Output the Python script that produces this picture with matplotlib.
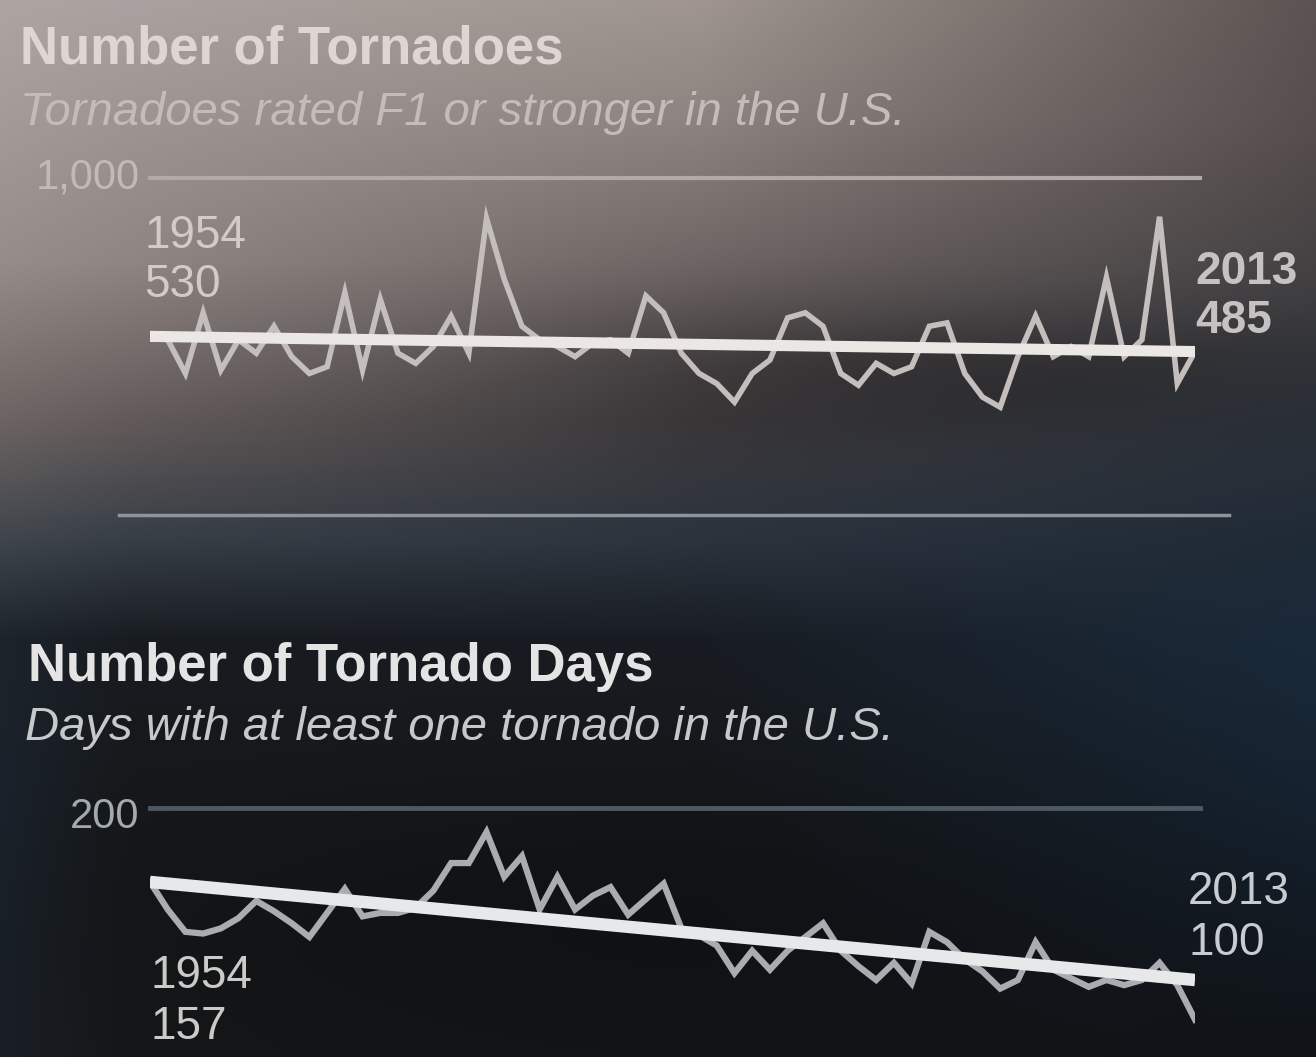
import numpy as np
import matplotlib
matplotlib.use("Agg")
import matplotlib.pyplot as plt
from matplotlib.colors import to_rgb

plt.rcParams['font.family'] = ['Liberation Sans', 'DejaVu Sans']

# ---- data ----
years = list(range(1954, 2014))

# top panel: tornadoes per year (F1 or stronger)
tornadoes = [530, 520, 420, 600, 430, 520, 480, 560, 470, 420,
             440, 660, 430, 640, 480, 450, 500, 590, 480, 880,
             700, 560, 520, 500, 470, 510, 520, 480, 650, 600,
             480, 420, 390, 335, 420, 460, 585, 600, 560, 420,
             385, 450, 420, 440, 560, 570, 420, 350, 320, 470,
             590, 470, 500, 470, 705, 470, 520, 885, 390, 485]
tornado_trend = [530, 485]

# bottom panel: days with at least one tornado
days = [157, 141, 128, 127, 130, 136, 146, 140, 133, 125,
        139, 153, 137, 139, 139, 142, 152, 168, 168, 186,
        160, 172, 141, 160, 141, 149, 154, 138, 147, 156,
        130, 126, 120, 104, 117, 106, 117, 125, 133, 117,
        108, 100, 110, 98, 128, 122, 112, 105, 95, 100,
        122, 106, 101, 96, 100, 97, 100, 110, 97, 77]
days_trend = [157, 100]
trend_years = [years[0], years[-1]]

W, H = 1316, 1057

# ---- background: photo-like gradient, light grey top to near black bottom ----
bg_ys = [0, 120, 260, 420, 540, 640, 800, 1057]
bg_xs = [0, 130, 700, 1316]
bg_rows = [
    ['#aca5a2', '#aaa2a0', '#a0968f', '#5c5251'],
    ['#a39b98', '#9e9592', '#8d8380', '#574d4d'],
    ['#968d8a', '#8f8683', '#6f6564', '#454243'],
    ['#6c6462', '#625a59', '#3d3a3c', '#2c323a'],
    ['#3f454c', '#373e46', '#2b333d', '#1f2a36'],
    ['#1c232b', '#181c21', '#181c22', '#1a2a3a'],
    ['#1a222b', '#161819', '#151719', '#15222f'],
    ['#1a1f26', '#151617', '#141517', '#101317'],
]
anchor = np.array([[to_rgb(c) for c in row] for row in bg_rows])  # rows x cols x 3
yy = np.arange(H)
xx = np.arange(W)
colgrid = np.stack([np.stack([np.interp(yy, bg_ys, anchor[:, j, c]) for c in range(3)], -1)
                    for j in range(len(bg_xs))], 1)
t = np.interp(xx, bg_xs, np.arange(len(bg_xs)))
i0 = np.clip(np.floor(t).astype(int), 0, len(bg_xs) - 2)
f = t - i0
img = colgrid[:, i0, :] * (1 - f)[None, :, None] + colgrid[:, i0 + 1, :] * f[None, :, None]
X, Y = np.meshgrid(xx, yy)
img *= 1 - 0.25 * np.exp(-(((X - 950) / 380) ** 2 + ((Y - 370) / 60) ** 2))[..., None]
img *= 1 - 0.2 * np.exp(-(((X - 650) / 500) ** 2 + ((Y - 920) / 120) ** 2))[..., None]

fig = plt.figure(figsize=(W / 100, H / 100), dpi=100)
bg = fig.add_axes([0, 0, 1, 1])
bg.imshow(np.clip(img, 0, 1), extent=[0, W, H, 0], aspect='auto', interpolation='bilinear')
bg.set_xlim(0, W)
bg.set_ylim(H, 0)
bg.set_axis_off()

# titles
bg.text(20, 50, 'Number of Tornadoes', fontsize=38, fontweight='bold',
        color='#ddd6d3', va='center', ha='left')
bg.text(20, 113, 'Tornadoes rated F1 or stronger in the U.S.', fontsize=34,
        style='italic', color='#c4bcb9', va='center', ha='left')
bg.text(28, 667, 'Number of Tornado Days', fontsize=38, fontweight='bold',
        color='#e4e4e4', va='center', ha='left')
bg.text(25, 728, 'Days with at least one tornado in the U.S.', fontsize=34,
        style='italic', color='#c6c8ca', va='center', ha='left')

# ---- top chart ----
x_left, x_w = 150 / W, 1045 / W
ax1 = fig.add_axes([x_left, 1 - 515 / H, x_w, 337 / H])
ax1.set_xlim(years[0], years[-1])
ax1.set_ylim(0, 1000)
ax1.set_axis_off()
ax1.axhline(1000, xmin=0, xmax=1.005, color='#b2aaa7', lw=3, clip_on=False)
ax1.axhline(0, xmin=-0.03, xmax=1.033, color='#8e949b', lw=2.5, clip_on=False)
ax1.text(-0.01, 1000, '1,000', transform=ax1.get_yaxis_transform(), ha='right',
         va='center', fontsize=30, color='#c2bab7')
ax1.plot(years, tornadoes, color='#c4bebc', lw=4, solid_joinstyle='miter')
ax1.plot(trend_years, tornado_trend, color='#ebe7e5', lw=8, solid_capstyle='round')
ax1.annotate(f'{trend_years[0]}\n{tornado_trend[0]}', xy=(trend_years[0], tornado_trend[0]),
             xytext=(-4, 88), textcoords='offset points', ha='left', va='top',
             fontsize=33, color='#d2cbc8', linespacing=1.15)
ax1.annotate(f'{trend_years[1]}\n{tornado_trend[1]}', xy=(trend_years[1], tornado_trend[1]),
             xytext=(0, 73), textcoords='offset points', ha='left', va='top',
             fontsize=33, color='#c6c2c2', linespacing=1.15, fontweight='bold')

# ---- bottom chart ----
ax2 = fig.add_axes([x_left, 1 - 1152 / H, x_w, 344 / H])
ax2.set_xlim(years[0], years[-1])
ax2.set_ylim(0, 200)
ax2.set_axis_off()
ax2.axhline(200, xmin=0, xmax=1.005, color='#4e5861', lw=3.5, clip_on=False)
ax2.text(-0.01, 195, '200', transform=ax2.get_yaxis_transform(), ha='right',
         va='center', fontsize=30, color='#a4a9ad')
ax2.plot(years, days, color='#a9adb1', lw=4.5, solid_joinstyle='miter')
ax2.plot(trend_years, days_trend, color='#e6e8ea', lw=9, solid_capstyle='butt')
ax2.annotate(f'{trend_years[0]}\n{days_trend[0]}', xy=(trend_years[0], days_trend[0]),
             xytext=(0, -52), textcoords='offset points', ha='left', va='top',
             fontsize=33, color='#cacaca', linespacing=1.2)
ax2.annotate(f'{trend_years[1]}\n{days_trend[1]}', xy=(trend_years[1], days_trend[1]),
             xytext=(-5, 79), textcoords='offset points', ha='left', va='top',
             fontsize=33, color='#c8ccd0', linespacing=1.2)

fig.savefig('out.png', dpi=100)
plt.close(fig)
